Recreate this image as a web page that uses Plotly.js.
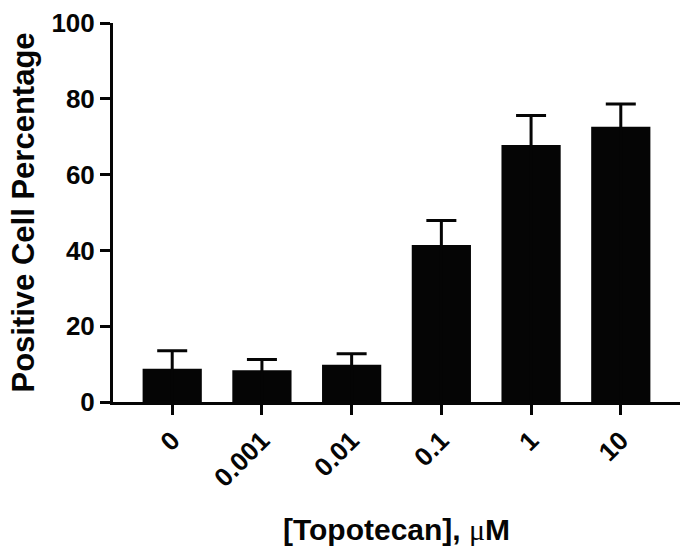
<!DOCTYPE html>
<html>
<head>
<meta charset="utf-8">
<script src="https://cdn.plot.ly/plotly-3.0.1.min.js"></script>
<style>html,body{margin:0;padding:0;background:#fff;}#chart{width:680px;height:546px;}</style>
</head>
<body>
<div id="chart"></div>
<script>
const categories = ["0", "0.001", "0.01", "0.1", "1", "10"];
const values = [8.8, 8.4, 9.8, 41.4, 67.8, 72.6];
const errorsUp = [4.7, 2.8, 2.9, 6.5, 7.8, 6.0];
const yTicks = [0, 20, 40, 60, 80, 100];

const FONT = "'Liberation Sans', Arial, Helvetica, sans-serif";

const trace = {
  type: 'bar',
  x: categories,
  y: values,
  marker: {color: '#050505', line: {width: 0}},
  error_y: {
    type: 'data',
    symmetric: false,
    array: errorsUp,
    arrayminus: values,
    color: '#050505',
    thickness: 3,
    width: 15
  },
  hoverinfo: 'skip'
};

const layout = {
  width: 680,
  height: 546,
  margin: {l: 113, r: 0, t: 23, b: 144},
  paper_bgcolor: '#fff',
  plot_bgcolor: '#fff',
  showlegend: false,
  bargap: 0.34,
  font: {family: FONT, color: '#050505', weight: 'bold'},
  xaxis: {
    type: 'category',
    range: [-0.66, 5.66],
    showline: true,
    linecolor: '#050505',
    linewidth: 3,
    ticks: 'outside',
    ticklen: 10,
    tickwidth: 3,
    tickcolor: '#050505',
    tickangle: -45,
    tickfont: {family: FONT, size: 26, weight: 'bold', color: '#050505'},
    showgrid: false,
    zeroline: false,
    automargin: false,
    title: {
      text: '[Topotecan], <span style="font-family:\'Liberation Serif\',serif;font-weight:normal">μ</span>M',
      font: {family: FONT, size: 30, weight: 'bold', color: '#050505'},
      standoff: 29
    }
  },
  yaxis: {
    range: [0, 100],
    tickvals: yTicks,
    ticktext: yTicks.map(String),
    showline: true,
    linecolor: '#050505',
    linewidth: 3,
    ticks: 'outside',
    ticklen: 10,
    tickwidth: 3,
    tickcolor: '#050505',
    tickfont: {family: FONT, size: 26, weight: 'bold', color: '#050505'},
    showgrid: false,
    zeroline: false,
    automargin: false,
    title: {
      text: 'Positive Cell Percentage',
      font: {family: FONT, size: 31, weight: 'bold', color: '#050505'},
      standoff: 8
    }
  }
};

Plotly.newPlot('chart', [trace], layout, {staticPlot: true, displayModeBar: false});
</script>
</body>
</html>
